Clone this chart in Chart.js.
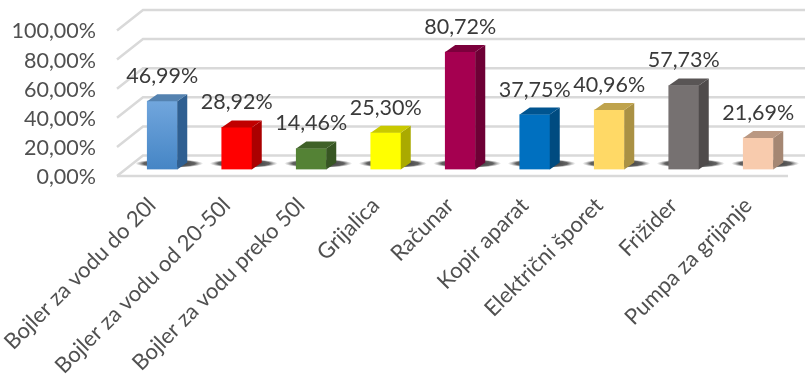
<!DOCTYPE html>
<html><head><meta charset="utf-8">
<style>html,body{margin:0;padding:0;background:#fff}canvas{display:block}</style>
<script src="https://cdn.jsdelivr.net/npm/chart.js@4"></script>
</head><body><canvas id="c" width="805" height="376"></canvas>
<script>
const categories = ["Bojler za vodu do 20l","Bojler za vodu od 20-50l","Bojler za vodu preko 50l","Grijalica","Računar","Kopir aparat","Električni šporet","Frižider","Pumpa za grijanje"];
const values = [46.99,28.92,14.46,25.30,80.72,37.75,40.96,57.73,21.69];
const frontColors = ["#5B9BD5","#FF0000","#548235","#FFFF00","#A50050","#0070C0","#FFD966","#767171","#F8CBAD"];
const sideColors = ["#2F5F91","#AA0000","#375623","#AAAA00","#6E0035","#004B80","#AA9144","#4F4B4B","#A58773"];
const topColors = ["#5482B0","#C00000","#3F6128","#C9C900","#7C003C","#005490","#BFA34D","#595555","#BA9882"];
const yTicks = [0,20,40,60,80,100];
const fmt = v => v.toFixed(2).replace('.',',') + '%';
const FONT = 'Lato';
const DX = 10, DY = 7, BACK = 14, FRONT = 6.5, LEFTX = 117, BACKX = 143, FLOOR_R = 788;

const scene = {
  id:'scene',
  beforeDatasetsDraw(ch){
    const c = ch.ctx, y = ch.scales.y;
    c.save();
    c.strokeStyle = '#D9D9D9'; c.lineWidth = 2.5;
    yTicks.forEach(v=>{
      const p = y.getPixelForValue(v);
      c.beginPath();
      c.moveTo(LEFTX, p+FRONT); c.lineTo(BACKX, p-BACK); c.lineTo(805, p-BACK);
      c.stroke();
    });
    const p0 = y.getPixelForValue(0);
    c.beginPath(); c.moveTo(LEFTX,p0+FRONT); c.lineTo(FLOOR_R,p0+FRONT); c.stroke();
    // floor shadows
    ch.getDatasetMeta(0).data.forEach(b=>{
      const cx = b.x + 7, cy = p0 - 6;
      c.save();
      c.translate(cx,cy); c.scale(1,0.13);
      const g = c.createRadialGradient(0,0,2,0,0,34);
      g.addColorStop(0,'rgba(30,30,30,1)');
      g.addColorStop(0.75,'rgba(60,60,60,0.8)');
      g.addColorStop(1,'rgba(130,130,130,0)');
      c.fillStyle = g;
      c.beginPath(); c.arc(0,0,34,0,Math.PI*2); c.fill();
      c.restore();
    });
    c.restore();
  },
  afterDatasetsDraw(ch){
    const c = ch.ctx;
    c.save();
    ch.getDatasetMeta(0).data.forEach((b,i)=>{
      const l = b.x-b.width/2, r = b.x+b.width/2, t = b.y, bt = b.base;
      c.fillStyle = sideColors[i];
      c.beginPath(); c.moveTo(r,t); c.lineTo(r+DX,t-DY); c.lineTo(r+DX,bt-DY); c.lineTo(r,bt); c.closePath(); c.fill();
      c.fillStyle = topColors[i];
      c.beginPath(); c.moveTo(l,t); c.lineTo(l+DX,t-DY); c.lineTo(r+DX,t-DY); c.lineTo(r,t); c.closePath(); c.fill();
      c.fillStyle = '#3A3A3A';
      c.font = '21.5px '+FONT; c.textAlign='center'; c.textBaseline='middle';
      c.fillText(fmt(values[i]), b.x, t-25);
    });
    c.restore();
  }
};

new Chart(document.getElementById('c'),{
  type:'bar',
  data:{labels:categories,datasets:[{data:values,barThickness:30,borderWidth:0,
    backgroundColor:(ctx)=>{
      const i = ctx.dataIndex;
      if(i===0 && ctx.chart.chartArea){
        const y = ctx.chart.scales.y;
        const g = ctx.chart.ctx.createLinearGradient(0,y.getPixelForValue(values[0]),0,y.getPixelForValue(0));
        g.addColorStop(0,'#71A6DD'); g.addColorStop(1,'#4585C5');
        return g;
      }
      return frontColors[i];
    }}]},
  plugins:[scene],
  options:{
    responsive:false,animation:false,
    layout:{padding:{top:24,right:9.5,left:0,bottom:0}},
    plugins:{legend:{display:false},tooltip:{enabled:false}},
    scales:{
      x:{grid:{display:false},border:{display:false},
        afterFit(s){s.height=376-169.5;s.paddingLeft=0;s.paddingRight=0;},
        ticks:{autoSkip:false,minRotation:45,maxRotation:45,padding:15,labelOffset:-10,color:'#505050',font:{family:FONT,size:22}}},
      y:{min:0,max:100,grid:{display:false,drawTicks:false},border:{display:false},
        afterFit(s){s.width=125;s.paddingTop=0;s.paddingBottom=0;},
        afterBuildTicks(s){s.ticks=yTicks.map(v=>({value:v}));},
        ticks:{padding:29,labelOffset:7.5,color:'#505050',font:{family:FONT,size:21.5},callback:v=>fmt(v)}}
    }
  }
});
</script></body></html>
